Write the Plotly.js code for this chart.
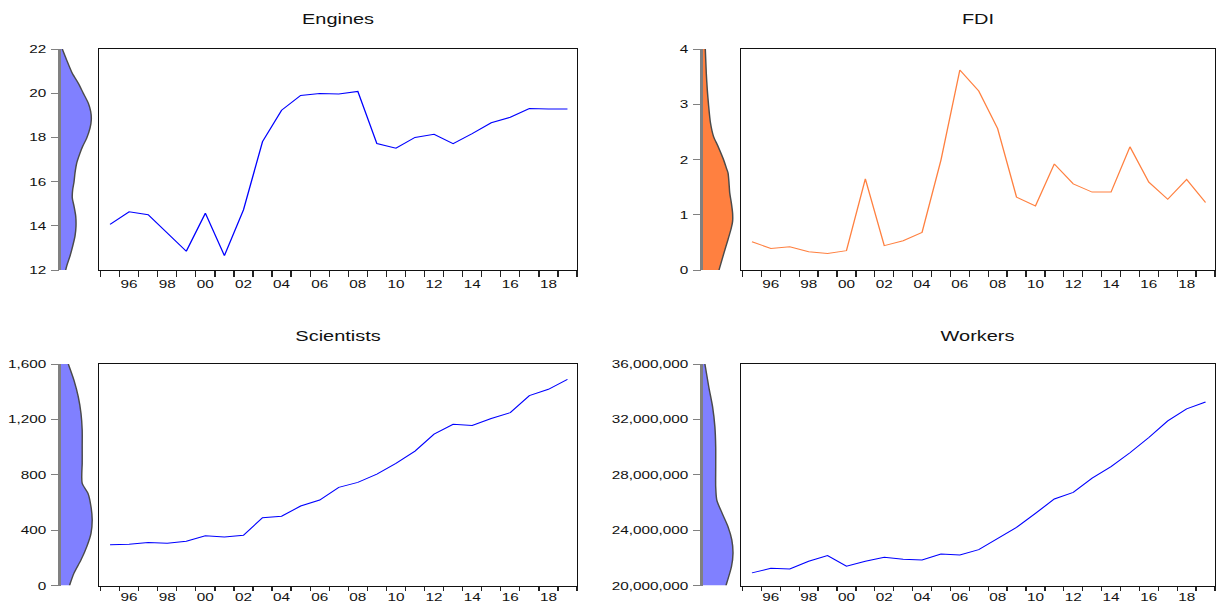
<!DOCTYPE html>
<html>
<head>
<meta charset="utf-8">
<script src="https://cdn.plot.ly/plotly-3.0.1.min.js"></script>
<style>
html,body{margin:0;padding:0;background:#fff;overflow:hidden;}
#wrap{width:1216px;height:603px;overflow:hidden;}
#chart{width:914px;height:603px;transform:scaleX(1.3304);transform-origin:0 0;}
</style>
</head>
<body>
<div id="wrap"><div id="chart"></div></div>
<script>
// ---- data ----
var years = [1995,1996,1997,1998,1999,2000,2001,2002,2003,2004,2005,2006,2007,2008,2009,2010,2011,2012,2013,2014,2015,2016,2017,2018,2019];

var engines = [14.06,14.63,14.5,13.67,12.85,14.57,12.65,14.72,17.81,19.23,19.9,19.99,19.96,20.08,17.72,17.51,18.0,18.14,17.72,18.17,18.66,18.91,19.31,19.28,19.28];
var fdi = [0.51,0.39,0.42,0.33,0.30,0.35,1.65,0.44,0.53,0.68,1.99,3.62,3.24,2.56,1.32,1.16,1.92,1.56,1.41,1.41,2.23,1.59,1.28,1.64,1.22];
var scientists = [295,298,310,305,320,360,351,363,490,500,574,617,709,745,805,882,971,1093,1165,1156,1206,1249,1372,1417,1489];
var workers = [20910000,21250000,21200000,21750000,22160000,21390000,21750000,22040000,21900000,21850000,22280000,22210000,22590000,23390000,24200000,25210000,26250000,26730000,27760000,28580000,29590000,30690000,31890000,32760000,33260000];

// kernel density outlines (level on the value axis, width of the density)
var engDensLevel = [22.0,21.5,20.9,20.45,20.0,19.55,19.17,18.8,18.42,17.97,17.6,17.29,16.84,16.39,15.98,15.64,15.26,14.89,14.44,13.98,13.53,13.08,12.63,12.18,12.0];
var engDensWidth = [1.3,5.7,11.3,17.3,22.3,27.3,29.7,30.3,29.0,25.7,21.7,19.0,15.7,14.0,13.0,11.7,11.3,13.0,14.7,15.0,14.0,11.7,9.0,5.7,4.7];

var fdiDensLevel = [4.0,3.56,3.26,3.0,2.66,2.42,2.24,2.0,1.85,1.76,1.58,1.40,1.22,1.03,0.88,0.76,0.55,0.31,0.0];
var fdiDensWidth = [2.3,3.3,4.3,5.5,7.5,10.5,15.0,20.5,23.3,25.0,26.0,26.7,28.3,29.6,29.6,28.3,25.0,21.0,16.0];

var sciDensLevel = [1600,1482,1362,1242,1122,1002,882,810,738,665,569,473,377,281,185,89,0];
var sciDensWidth = [7.3,13.0,17.3,20.0,21.2,21.2,21.2,20.8,21.2,27.0,30.0,31.2,30.0,25.8,20.0,13.0,8.5];

var wrkDensLevel = [36000000,34340000,32900000,31460000,30020000,28340000,27140000,26170000,25210000,24250000,23290000,22330000,21370000,20000000];
var wrkDensWidth = [1.9,5.8,9.6,11.9,12.7,12.7,12.7,13.8,19.2,25.0,28.8,30.0,28.5,23.0];

var titles = ["Engines","FDI","Scientists","Workers"];
var yearLabels = ["96","98","00","02","04","06","08","10","12","14","16","18"];
var yearLabelPos = [1996,1998,2000,2002,2004,2006,2008,2010,2012,2014,2016,2018];
var tickYears = [1995,1996,1997,1998,1999,2000,2001,2002,2003,2004,2005,2006,2007,2008,2009,2010,2011,2012,2013,2014,2015,2016,2017,2018,2019,2020];

// ---- layout geometry ----
var W = 1216, H = 603;
function fx(px){return px/W;}
function fy(px){return (H-px)/H;}

var panels = [
  {series:engines, dl:engDensLevel, dw:engDensWidth, yr:[12,22], dt:2, fmt:'', line:'#0000FF', fill:'#8080FF',
   dens:[61,95], box:[99,577], top:49, bot:270, ty:19, lab:3, mt:6},
  {series:fdi, dl:fdiDensLevel, dw:fdiDensWidth, yr:[0,4], dt:1, fmt:'', line:'#FF8040', fill:'#FF8040',
   dens:[703,737], box:[741,1215], top:49, bot:270, ty:19, lab:3, mt:6},
  {series:scientists, dl:sciDensLevel, dw:sciDensWidth, yr:[0,1600], dt:400, fmt:',d', line:'#0000FF', fill:'#8080FF',
   dens:[61,95], box:[99,577], top:364, bot:585.5, ty:335, lab:1, mt:4},
  {series:workers, dl:wrkDensLevel, dw:wrkDensWidth, yr:[20000000,36000000], dt:4000000, fmt:',d', line:'#0000FF', fill:'#8080FF',
   dens:[703,737], box:[741,1215], top:364, bot:585.5, ty:335, lab:1, mt:4}
];

var traces = [];
var layout = {
  width:914, height:603,
  margin:{l:0,r:0,t:0,b:0},
  paper_bgcolor:'#ffffff', plot_bgcolor:'rgba(0,0,0,0)',
  showlegend:false,
  font:{family:'"Liberation Sans", Arial, sans-serif', size:11, color:'#000'},
  annotations:[]
};

var xMid = years.map(function(y){return y+0.5;});
var labMid = yearLabelPos.map(function(y){return y+0.5;});

panels.forEach(function(p,i){
  var dn = 2*i+1, mn = 2*i+2;
  var dx = 'x'+(dn===1?'':dn), dy = 'y'+(dn===1?'':dn);
  var mx = 'x'+mn, my = 'y'+mn;
  var dxk = 'xaxis'+(dn===1?'':dn), dyk = 'yaxis'+(dn===1?'':dn);
  var mxk = 'xaxis'+mn, myk = 'yaxis'+mn;
  var ydom = [fy(p.bot), fy(p.top)];

  traces.push({
    type:'scatter', mode:'lines', x:p.dw, y:p.dl, xaxis:dx, yaxis:dy,
    fill:'tozerox', fillcolor:p.fill,
    line:{color:'#4a4a4a', width:1.1, shape:'spline', smoothing:0.7},
    hoverinfo:'skip'
  });
  traces.push({
    type:'scatter', mode:'lines', x:xMid, y:p.series, xaxis:mx, yaxis:my,
    line:{color:p.line, width:1}, hoverinfo:'x+y'
  });

  layout[dxk] = {domain:[fx(p.dens[0]), fx(p.dens[1])], range:[0, p.dens[1]-p.dens[0]],
    visible:false, anchor:dy, fixedrange:true};
  layout[dyk] = {domain:ydom, range:p.yr, anchor:dx, side:'left',
    showline:true, linecolor:'#808080', linewidth:1.5,
    ticks:'outside', ticklen:6, tickwidth:1, tickcolor:'#808080',
    dtick:p.dt, tick0:p.yr[0], tickformat:p.fmt, showgrid:false, zeroline:false,
    tickfont:{size:11.5, color:'#111'}, ticklabelstandoff:1};

  layout[mxk] = {domain:[fx(p.box[0]), fx(p.box[1])], range:[1994.92, 2020], anchor:my,
    showline:true, mirror:true, linecolor:'#111111', linewidth:1.25,
    showgrid:false, zeroline:false,
    tickmode:'array', tickvals:labMid, ticktext:yearLabels,
    ticks:'outside', ticklen:p.lab, tickcolor:'rgba(0,0,0,0)',
    tickfont:{size:11.5, color:'#111'},
    minor:{tickmode:'array', tickvals:tickYears, ticks:'outside', ticklen:p.mt, tickwidth:1.1, tickcolor:'#222', showgrid:false}};
  layout[myk] = {domain:ydom, range:p.yr, anchor:mx,
    showline:true, mirror:true, linecolor:'#111111', linewidth:1.25,
    ticks:'', showticklabels:false, showgrid:false, zeroline:false};

  layout.annotations.push({text:titles[i], xref:'paper', yref:'paper',
    x:fx((p.box[0]+p.box[1])/2), y:fy(p.ty), xanchor:'center', yanchor:'middle',
    showarrow:false, font:{size:15, color:'#111'}});
});

Plotly.newPlot('chart', traces, layout, {displayModeBar:false, staticPlot:false});
</script>
</body>
</html>
